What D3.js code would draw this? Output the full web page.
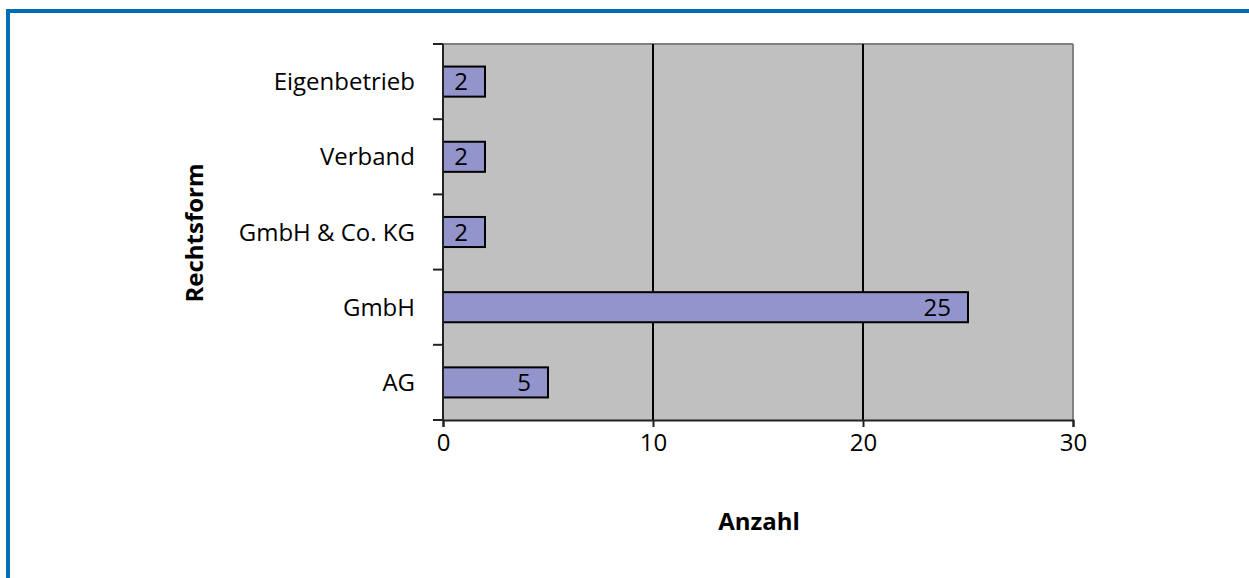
<!DOCTYPE html>
<html>
<head>
<meta charset="utf-8">
<script src="https://cdn.jsdelivr.net/npm/d3@7"></script>
<style>
  body { margin: 0; background: #fff; }
  svg text { font-family: "Open Sans", sans-serif; }
</style>
</head>
<body>
<div id="svg-holder"></div>
<script>
var categories = ["Eigenbetrieb", "Verband", "GmbH & Co. KG", "GmbH", "AG"];
var values = [2, 2, 2, 25, 5];
var xTicks = [0, 10, 20, 30];

var width = 1249;
var height = 578;
var plotLeft = 443, plotRight = 1073, plotTop = 44, plotBottom = 420;
var fontSize = 24;

var svg = d3.select('#svg-holder').append('svg')
            .attr("width", width)
            .attr("height", height);

// blue frame, top and left only
svg.append('rect').attr('x', 6).attr('y', 9).attr('width', width - 6).attr('height', 4).attr('fill', '#006eb4');
svg.append('rect').attr('x', 6).attr('y', 9).attr('width', 4).attr('height', height - 9).attr('fill', '#006eb4');

var x = d3.scaleLinear().domain([0, 30]).range([plotLeft, plotRight]);
var y = d3.scaleBand().domain(categories).range([plotTop, plotBottom]).paddingInner(0.6).paddingOuter(0.3);
var yTicks = d3.scaleBand().domain(categories).range([plotTop, plotBottom]);

// plot area
svg.append('rect')
    .attr('x', plotLeft).attr('y', plotTop)
    .attr('width', plotRight - plotLeft).attr('height', plotBottom - plotTop)
    .attr('fill', '#c0c0c0');
svg.append('line').attr('x1', plotLeft).attr('x2', plotRight).attr('y1', plotTop).attr('y2', plotTop)
    .attr('stroke', '#808080').attr('stroke-width', 2);
svg.append('line').attr('x1', plotRight).attr('x2', plotRight).attr('y1', plotTop).attr('y2', plotBottom)
    .attr('stroke', '#808080').attr('stroke-width', 2);

// gridlines
svg.selectAll('line.grid')
    .data(xTicks.slice(1, -1))
    .enter().append('line')
    .attr('class', 'grid')
    .attr('x1', function(d) { return x(d); })
    .attr('x2', function(d) { return x(d); })
    .attr('y1', plotTop).attr('y2', plotBottom)
    .attr('stroke', '#000').attr('stroke-width', 2);

// bars
svg.selectAll('rect.bar')
    .data(values)
    .enter().append('rect')
    .attr('class', 'bar')
    .attr('x', x(0))
    .attr('y', function(d, i) { return y(categories[i]); })
    .attr('width', function(d) { return x(d) - x(0); })
    .attr('height', y.bandwidth())
    .attr('fill', '#9494cc')
    .attr('stroke', '#000')
    .attr('stroke-width', 2);

svg.selectAll('text.val')
    .data(values)
    .enter().append('text')
    .attr('class', 'val')
    .attr('x', function(d) { return x(d) - 17; })
    .attr('y', function(d, i) { return y(categories[i]) + y.bandwidth() / 2; })
    .attr('dy', '0.36em')
    .attr('text-anchor', 'end')
    .attr('font-size', fontSize)
    .attr('fill', '#000')
    .text(function(d) { return d; });

// x axis
var xAxis = svg.append('g')
    .attr('transform', 'translate(0,' + plotBottom + ')')
    .call(d3.axisBottom(x).tickValues(xTicks).tickSize(7).tickPadding(7));
xAxis.select('.domain').attr('stroke', '#222').attr('stroke-width', 2);
xAxis.selectAll('.tick line').attr('stroke', '#222').attr('stroke-width', 2);
xAxis.selectAll('.tick text').attr('font-size', fontSize).attr('fill', '#000')
    .style('font-family', '"Open Sans", sans-serif');

// y axis, ticks at band boundaries
var yAxis = svg.append('g');
yAxis.append('line').attr('x1', plotLeft).attr('x2', plotLeft).attr('y1', plotTop).attr('y2', plotBottom)
    .attr('stroke', '#222').attr('stroke-width', 2);
var bounds = categories.map(function(c) { return yTicks(c); }).concat([plotBottom]);
yAxis.selectAll('line.yt')
    .data(bounds)
    .enter().append('line')
    .attr('class', 'yt')
    .attr('x1', plotLeft - 10).attr('x2', plotLeft)
    .attr('y1', function(d) { return d; })
    .attr('y2', function(d) { return d; })
    .attr('stroke', '#222').attr('stroke-width', 2);
yAxis.selectAll('text.cat')
    .data(categories)
    .enter().append('text')
    .attr('class', 'cat')
    .attr('x', plotLeft - 28)
    .attr('y', function(d) { return yTicks(d) + yTicks.bandwidth() / 2; })
    .attr('dy', '0.36em')
    .attr('text-anchor', 'end')
    .attr('font-size', fontSize)
    .attr('fill', '#000')
    .text(function(d) { return d; });

// axis titles
svg.append('text')
    .attr('x', 759).attr('y', 521)
    .attr('dy', '0.36em')
    .attr('text-anchor', 'middle')
    .attr('font-size', fontSize).attr('font-weight', 'bold')
    .text('Anzahl');
svg.append('text')
    .attr('transform', 'translate(194,233) rotate(-90)')
    .attr('dy', '0.36em')
    .attr('text-anchor', 'middle')
    .attr('font-size', fontSize).attr('font-weight', 'bold')
    .text('Rechtsform');
</script>
</body>
</html>
